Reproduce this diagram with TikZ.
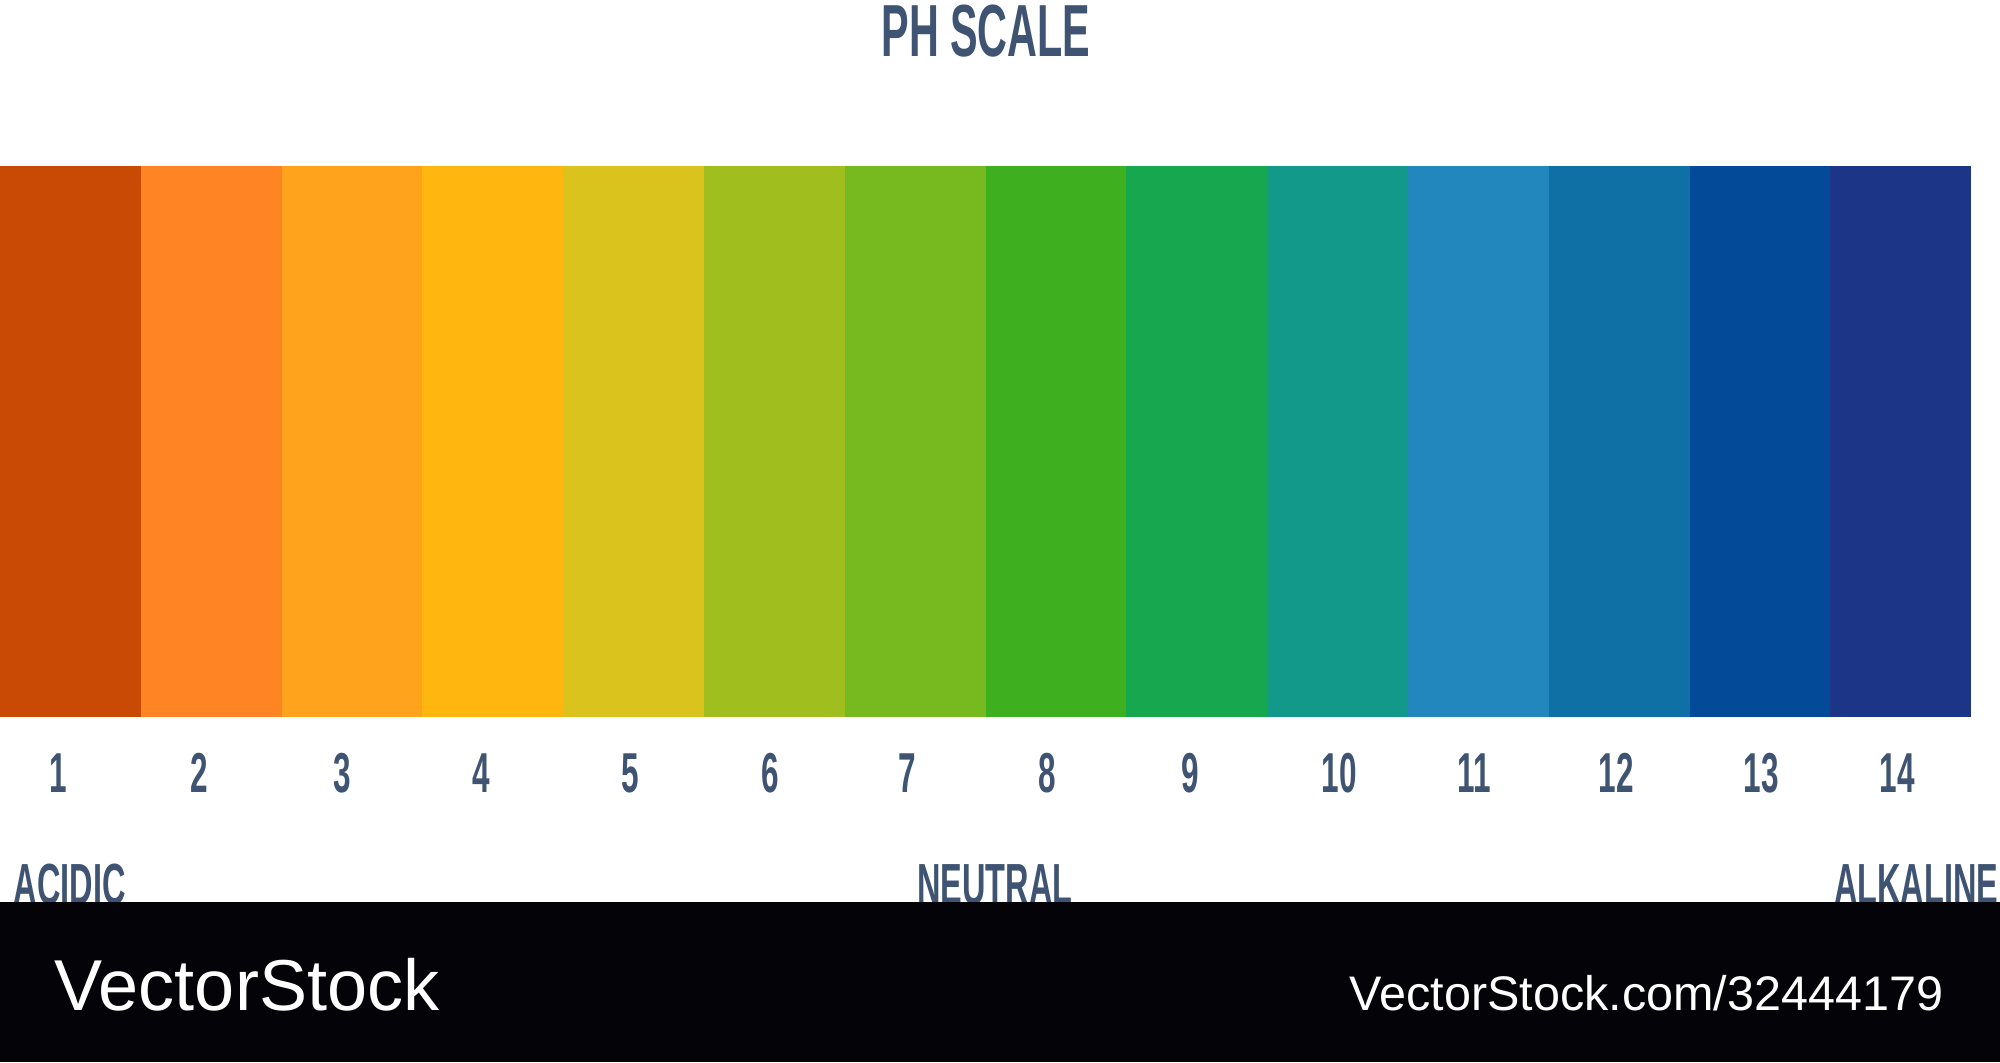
\documentclass[tikz,border=0pt]{standalone}
\usepackage{fontspec}
\newfontfamily\condfont[FakeStretch=0.56]{Liberation Sans}
\newfontfamily\logofont{Liberation Sans}

\definecolor{phA}{HTML}{C84A05}
\definecolor{phB}{HTML}{FF8424}
\definecolor{phC}{HTML}{FFA31C}
\definecolor{phD}{HTML}{FFB70F}
\definecolor{phE}{HTML}{D9C31C}
\definecolor{phF}{HTML}{A0BE1E}
\definecolor{phG}{HTML}{76BA1F}
\definecolor{phH}{HTML}{3EAF1F}
\definecolor{phI}{HTML}{17A84F}
\definecolor{phJ}{HTML}{12998A}
\definecolor{phK}{HTML}{2287BC}
\definecolor{phL}{HTML}{0E70A4}
\definecolor{phM}{HTML}{034B98}
\definecolor{phN}{HTML}{1C3586}
\definecolor{slate}{HTML}{3F5472}
\definecolor{band}{HTML}{040307}

\tikzset{
  heading/.style={inner sep=0pt, text=slate, font=\condfont\bfseries\fontsize{21}{25}\selectfont},
  digit/.style={inner sep=0pt, text=slate, font=\condfont\bfseries\fontsize{16}{19}\selectfont},
  tag/.style={inner sep=0pt, text=slate, font=\condfont\bfseries\fontsize{16.5}{20}\selectfont},
  logo/.style={inner sep=0pt, text=white, font=\logofont}
}

\begin{document}
\begin{tikzpicture}[x=0.01cm,y=-0.01cm]

    % 1. Canvas (one unit = one pixel of the 2000 x 1062 image)
    \useasboundingbox (0,0) rectangle (2000,1062);
    \clip (0,0) rectangle (2000,1062);
    \fill [white] (0,0) rectangle (2000,1062);

    % 2. Title
    \node [heading, anchor=base] (title) at (986,56) {PH SCALE};

    % 3. The fourteen colour blocks
    \def\segw{140.8}
    \foreach \c [count=\i] in {phA,phB,phC,phD,phE,phF,phG,phH,phI,phJ,phK,phL,phM,phN}
        \fill [\c] ({(\i-1)*\segw},166) rectangle ({\i*\segw},717);

    % 4. Numbers under the blocks
    \foreach \n/\x in {1/58,2/199,3/342,4/481,5/630,6/770,7/907,
                       8/1047,9/1190,10/1339,11/1474,12/1616,13/1761,14/1897}
        \node [digit, anchor=base] (num\n) at (\x,792) {\n};

    % 5. Acidic / neutral / alkaline
    \node [tag, anchor=base west] (acidic) at (13,904) {ACIDIC};
    \node [tag, anchor=base] (neutral) at (995,904) {NEUTRAL};
    \node [tag, anchor=base east] (alkaline) at (1999,904) {ALKALINE};

    % 6. Black footer band with the logo
    \fill [band] (0,902) rectangle (2000,1062);
    \node [logo, anchor=base west, font=\logofont\fontsize{20.5}{24}\selectfont] (brand) at (54,1010) {VectorStock};
    \node [logo, anchor=base east, font=\logofont\fontsize{13.8}{17}\selectfont] (ref) at (1944,1010) {VectorStock.com/32444179};

\end{tikzpicture}
\end{document}
